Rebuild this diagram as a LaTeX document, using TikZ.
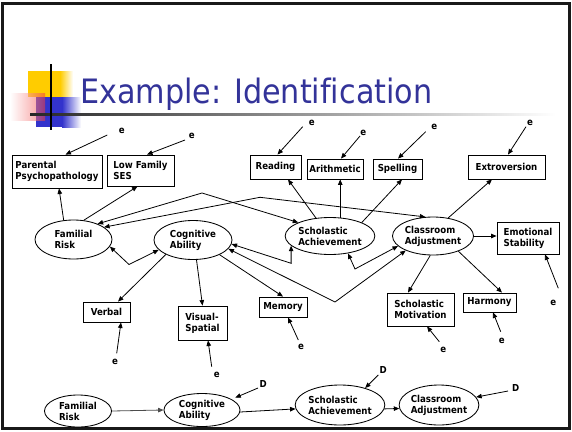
\documentclass[tikz,border=0pt]{standalone}
\usepackage{fontspec}
\setmainfont[Ligatures=NoCommon]{DejaVu Sans Condensed}
\usetikzlibrary{arrows.meta,shapes.geometric,calc}
\definecolor{titleblue}{RGB}{51,51,153}
\definecolor{logoyellow}{RGB}{255,204,0}
\definecolor{logoblue}{RGB}{51,51,204}
\definecolor{logored}{RGB}{240,60,60}
\begin{document}
\begin{tikzpicture}[x=1pt,y=-1pt,
  every node/.style={font=\bfseries\fontsize{9.6}{11}\selectfont},
  box/.style={draw, line width=0.85pt, rectangle, inner sep=0pt, align=left},
  oval/.style={draw, line width=0.85pt, ellipse, inner sep=0pt, align=left},
  tip/.style={-{Triangle[length=5.5pt,width=4.5pt]}},
  link/.style={line width=0.8pt, tip},
  twoway/.style={line width=0.8pt, {Triangle[length=5.5pt,width=4.5pt]}-{Triangle[length=5.5pt,width=4.5pt]}},
]
\useasboundingbox (0,0) rectangle (572,431);

% slide frame
\draw[line width=3pt, black!90] (2.5,3.5) rectangle (569.5,428.5);

% title ornament
\fill[logoyellow] (28,71) rectangle (60,97);
\shade[left color=logoyellow, right color=white] (60,71) rectangle (73,97);
\fill[logoblue] (36,97) rectangle (62,127);
\shade[left color=logoblue, right color=white] (62,97) rectangle (81,127);
\shade[left color=white, right color=logored, opacity=0.55] (10,93) rectangle (45,120);
\shade[left color=black!85, middle color=black!45, right color=white] (30,113.6) rectangle (556,115.2);
\fill[black] (50.2,64) rectangle (51.8,130);

\node[anchor=base west, inner sep=0pt, text=titleblue,
      font=\fontsize{33.6}{40}\selectfont] (title) at (80,103) {Example: Identification};

% indicators
\node[box, minimum width=90pt, minimum height=33pt] (pp)  at (57,171.5)   {Parental\\Psychopathology};
\node[box, minimum width=67pt, minimum height=31pt] (lfs) at (140.5,170.5) {Low Family\\SES};
\node[box, minimum width=51pt, minimum height=24pt] (rd)  at (275.5,167)   {Reading};
\node[box, minimum width=56pt, minimum height=20pt] (ar)  at (335,169)     {Arithmetic};
\node[box, minimum width=49pt, minimum height=20pt] (sp)  at (397.5,169)   {Spelling};
\node[box, minimum width=77pt, minimum height=24pt] (ex)  at (506.5,167)   {Extroversion};
\node[box, minimum width=62pt, minimum height=32pt] (es)  at (528,238)     {Emotional\\Stability};
\node[box, minimum width=67pt, minimum height=33pt] (sm)  at (420.5,309.5) {Scholastic\\Motivation};
\node[box, minimum width=53pt, minimum height=19pt] (hm)  at (489.5,302.5) {Harmony};
\node[box, minimum width=47pt, minimum height=20pt] (vb)  at (106.5,312)   {Verbal};
\node[box, minimum width=49pt, minimum height=34pt] (vs)  at (202.5,323)   {Visual-\\Spatial};
\node[box, minimum width=48pt, minimum height=20pt] (mem) at (283,307)     {Memory};

% latent variables
\node[oval, minimum width=77pt, minimum height=39pt] (fr)  at (73.5,239.5) {Familial\\Risk};
\node[oval, minimum width=78pt, minimum height=39pt] (ca)  at (193,240)    {Cognitive\\Ability};
\node[oval, minimum width=87pt, minimum height=37pt] (sa)  at (330,236)    {Scholastic\\Achievement};
\node[oval, minimum width=81pt, minimum height=38pt] (cad) at (433,236)    {Classroom\\Adjustment};

% error terms
\node (e1)  at (121.7,131)   {e};
\node (e2)  at (191.7,136)   {e};
\node (e3)  at (311.7,122.7) {e};
\node (e4)  at (363.3,132.7) {e};
\node (e5)  at (434.3,127.3) {e};
\node (e6)  at (530,122.7)   {e};
\node (e7)  at (553.3,303.3) {e};
\node (e8)  at (501.7,340.7) {e};
\node (e9)  at (443.3,350)   {e};
\node (e10) at (301,346.7)   {e};
\node (e11) at (115,361.7)   {e};
\node (e12) at (216.7,375)   {e};

\draw[link] ($(e1)+(-14.4,4)$)  -- ([xshift=8.5pt]pp.north);
\draw[link] ($(e2)+(-6.7,4)$)   -- ([xshift=6.5pt]lfs.north);
\draw[link] ($(e3)+(-9,4)$)     -- ([xshift=2pt]rd.north);
\draw[link] ($(e4)+(-3.3,3.3)$) -- ([xshift=6pt]ar.north);
\draw[link] ($(e5)+(-8.6,4.4)$) -- ([xshift=0.5pt]sp.north);
\draw[link] ($(e6)+(-4,4)$)     -- ([xshift=1.5pt]ex.north);
\draw[link] ($(e7)+(5,-15)$)    -- ([xshift=17pt]es.south);
\draw[link] ($(e8)+(-1,-9)$)    -- ([xshift=3.5pt]hm.south);
\draw[link] ($(e9)+(-4,-8.3)$)  -- ([xshift=6.5pt]sm.south);
\draw[link] ($(e10)+(-2.7,-6.7)$) -- ([xshift=5pt]mem.south);
\draw[link] ($(e11)+(1.7,-8.4)$)  -- ([xshift=14.5pt]vb.south);
\draw[link] ($(e12)+(-5,-8.3)$)   -- ([xshift=5.5pt]vs.south);

% loadings
\draw[link] (fr.117) -- ([xshift=2pt]pp.south);
\draw[link] (fr.62)  -- ([xshift=-3pt]lfs.south);
\draw[link] (ca.208) -- ([xshift=11.5pt]vb.north);
\draw[link] (ca.-80) -- (vs.north);
\draw[link] (ca.-29) -- (mem.north);
\draw[link] (sa.128) -- ([xshift=12.5pt]rd.south);
\draw[link] (sa.61)  -- (sa.61 |- ar.south);
\draw[link] (sa.23)  -- ([xshift=4.5pt]sp.south);
\draw[link] (cad.50) -- ([xshift=-14.5pt]ex.south);
\draw[link] (cad.east) -- (cad.east -| es.west);
\draw[link] (cad.-98) -- ([xshift=-12.5pt]sm.north);
\draw[link] (cad.-31) -- ([xshift=12.5pt]hm.north);

% associations among the latent variables
\coordinate (bA) at (202,193);
\coordinate (bB) at (260,197.3);
\coordinate (bV) at (129,264.5);
\coordinate (yS) at (0,263.3);
\coordinate (bS) at (sa.194 |- yS);
\coordinate (bC) at (335,302);
\coordinate (bD) at (355,269);
\draw[twoway] (fr.33)  -- (bA) -- (sa.157);
\draw[twoway] (fr.22)  -- (bB) -- (cad.112);
\draw[twoway] (fr.-11) -- (bV) -- (ca.196);
\draw[twoway] (ca.-6)  -- (bS) -- (sa.194);
\draw[twoway] (ca.-14) -- (bC) -- (cad.208);
\draw[twoway] (sa.-44) -- (bD) -- (cad.196);

% structural model
\node[oval, minimum width=67pt, minimum height=32pt] (fr2)  at (78,411)  {Familial\\Risk};
\node[oval, minimum width=76pt, minimum height=33pt] (ca2)  at (202,410) {Cognitive\\Ability};
\node[oval, minimum width=87pt, minimum height=40pt] (sa2)  at (340,405) {Scholastic\\Achievement};
\node[oval, minimum width=75pt, minimum height=40pt] (cad2) at (439,405) {Classroom\\Adjustment};

\node (d1) at (263.3,384.3) {D};
\node (d2) at (383.3,370)   {D};
\node (d3) at (515.7,388.3) {D};

\draw[link, black!70] (fr2.east) -- (ca2.west);
\draw[link] (ca2.-3) -- (sa2.185);
\draw[link] (sa2.-5) -- (cad2.185);
\draw[link, shorten >=4pt] ($(d1)+(-5.3,3.7)$) -- (ca2.20);
\draw[link] ($(d2)+(-5,5)$)     -- (sa2.34);
\draw[link] ($(d3)+(-7.7,2.7)$) -- (cad2.12);
\end{tikzpicture}
\end{document}
